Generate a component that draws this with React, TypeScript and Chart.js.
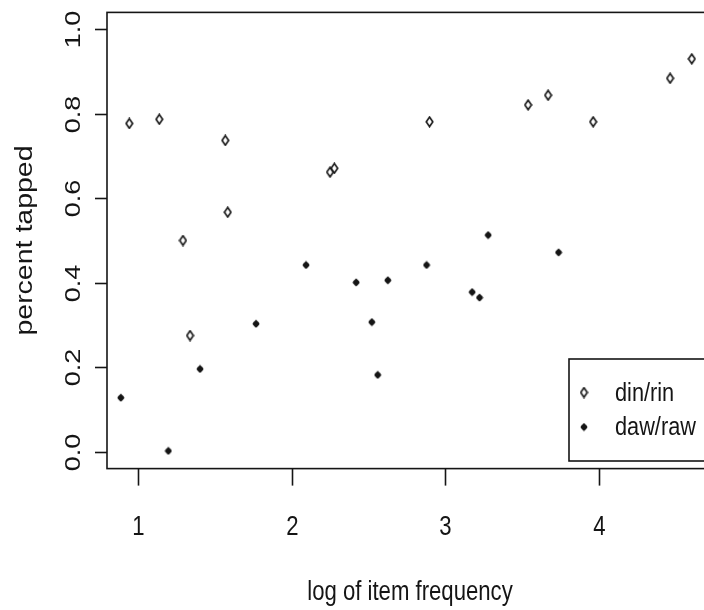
import React, { useEffect, useRef } from "react";
import { Chart, registerables } from "chart.js";

Chart.register(...registerables);

// ---- data ----
const dinRinX = [0.945, 1.14, 1.569, 1.585, 1.294, 1.34, 2.25, 2.278, 2.897, 3.538, 3.668, 3.961, 4.461, 4.602];
const dinRinY = [0.777, 0.787, 0.737, 0.567, 0.5, 0.275, 0.662, 0.671, 0.781, 0.821, 0.844, 0.781, 0.884, 0.93];
const dawRawX = [0.89, 1.199, 1.405, 1.769, 2.094, 2.42, 2.522, 2.56, 2.626, 2.878, 3.174, 3.222, 3.278, 3.736];
const dawRawY = [0.128, 0.002, 0.196, 0.303, 0.442, 0.401, 0.307, 0.182, 0.406, 0.442, 0.378, 0.365, 0.513, 0.472];
const xTicks = [1, 2, 3, 4];
const yTicks = [0.0, 0.2, 0.4, 0.6, 0.8, 1.0];
const yTickLabels = ["0.0", "0.2", "0.4", "0.6", "0.8", "1.0"];
const seriesNames = ["din/rin", "daw/raw"];
const xTitle = "log of item frequency";
const yTitle = "percent tapped";

const SX = 0.82;
const FONT = "Liberation Sans, Arial, sans-serif";
const INK = "#151515";

function makeOpenDiamond(): HTMLCanvasElement {
  const c = document.createElement("canvas");
  c.width = 9;
  c.height = 12;
  const g = c.getContext("2d")!;
  g.strokeStyle = INK;
  g.lineWidth = 1.6;
  g.beginPath();
  g.moveTo(4.5, 1.2);
  g.lineTo(7.8, 6);
  g.lineTo(4.5, 10.8);
  g.lineTo(1.2, 6);
  g.closePath();
  g.fillStyle = "#fff";
  g.fill();
  g.stroke();
  return c;
}

function makeFilledDiamond(): HTMLCanvasElement {
  const c = document.createElement("canvas");
  c.width = 8;
  c.height = 9;
  const g = c.getContext("2d")!;
  g.fillStyle = INK;
  g.beginPath();
  g.moveTo(4, 0.4);
  g.quadraticCurveTo(7.6, 3.4, 7.4, 4.5);
  g.quadraticCurveTo(7.6, 5.6, 4, 8.6);
  g.quadraticCurveTo(0.4, 5.6, 0.6, 4.5);
  g.quadraticCurveTo(0.4, 3.4, 4, 0.4);
  g.closePath();
  g.fill();
  return c;
}

function sText(
  ctx: CanvasRenderingContext2D,
  text: string,
  x: number,
  y: number,
  size: number,
  align: CanvasTextAlign,
  baseline: CanvasTextBaseline,
  rotate = false
) {
  ctx.save();
  ctx.translate(x, y);
  ctx.scale(SX, 1);
  if (rotate) ctx.rotate(-Math.PI / 2);
  ctx.font = `${size}px ${FONT}`;
  ctx.fillStyle = INK;
  ctx.textAlign = align;
  ctx.textBaseline = baseline;
  ctx.fillText(text, 0, 0);
  ctx.restore();
}

export default function App() {
  const ref = useRef<HTMLCanvasElement>(null);

  useEffect(() => {
    const canvas = ref.current!;
    const openImg = makeOpenDiamond();
    const filledImg = makeFilledDiamond();

    const axesPlugin = {
      id: "rAxes",
      beforeDatasetsDraw(chart: any) {
        const ctx: CanvasRenderingContext2D = chart.ctx;
        const { left, right, top, bottom } = chart.chartArea;
        const xs = chart.scales.x;
        const ys = chart.scales.y;
        ctx.save();
        ctx.strokeStyle = INK;
        ctx.lineWidth = 1.6;
        ctx.strokeRect(left, top, right - left, bottom - top);
        xTicks.forEach((v) => {
          const px = Math.round(xs.getPixelForValue(v)) + 0.5;
          ctx.beginPath();
          ctx.moveTo(px, bottom);
          ctx.lineTo(px, bottom + 17);
          ctx.stroke();
          sText(ctx, String(v), px, 535, 27, "center", "alphabetic");
        });
        yTicks.forEach((v, i) => {
          const py = Math.round(ys.getPixelForValue(v)) + 0.5;
          ctx.beginPath();
          ctx.moveTo(left, py);
          ctx.lineTo(left - 12, py);
          ctx.stroke();
          sText(ctx, yTickLabels[i], 80, py, 27, "center", "alphabetic", true);
        });
        sText(ctx, xTitle, (left + right) / 2, 600, 27, "center", "alphabetic");
        sText(ctx, yTitle, 32, (top + bottom) / 2, 28.5, "center", "alphabetic", true);
        ctx.restore();
      },
      afterDatasetsDraw(chart: any) {
        const ctx: CanvasRenderingContext2D = chart.ctx;
        ctx.save();
        ctx.fillStyle = "#fff";
        ctx.fillRect(569, 359, 200, 102);
        ctx.strokeStyle = INK;
        ctx.lineWidth = 1.6;
        ctx.strokeRect(569, 359, 200, 102);
        ctx.drawImage(openImg, 584 - openImg.width / 2, 392.5 - openImg.height / 2);
        ctx.drawImage(filledImg, 584 - filledImg.width / 2, 427 - filledImg.height / 2);
        sText(ctx, seriesNames[0], 615, 401, 26.5, "left", "alphabetic");
        sText(ctx, seriesNames[1], 615, 435, 26.5, "left", "alphabetic");
        ctx.restore();
      },
    };

    const chart = new Chart(canvas, {
      type: "scatter",
      data: {
        datasets: [
          {
            label: seriesNames[0],
            data: dinRinX.map((x, i) => ({ x, y: dinRinY[i] })),
            pointStyle: openImg as any,
            pointRadius: 5,
          },
          {
            label: seriesNames[1],
            data: dawRawX.map((x, i) => ({ x, y: dawRawY[i] })),
            pointStyle: filledImg as any,
            pointRadius: 4,
          },
        ],
      },
      options: {
        responsive: false,
        animation: false,
        events: [],
        layout: { padding: { left: 107, top: 12.4, right: 730 - 713, bottom: 610 - 468.6 } },
        plugins: { legend: { display: false }, tooltip: { enabled: false } },
        scales: {
          x: { type: "linear", min: 0.8, max: 4.74, display: false },
          y: { type: "linear", min: -0.04, max: 1.04, display: false },
        },
      },
      plugins: [axesPlugin],
    });
    return () => chart.destroy();
  }, []);

  return (
    <div
      style={{
        position: "absolute",
        left: 0,
        top: 0,
        width: 704,
        height: 610,
        overflow: "hidden",
        background: "#fff",
      }}
    >
      <canvas ref={ref} width={730} height={610} style={{ display: "block" }} />
    </div>
  );
}
